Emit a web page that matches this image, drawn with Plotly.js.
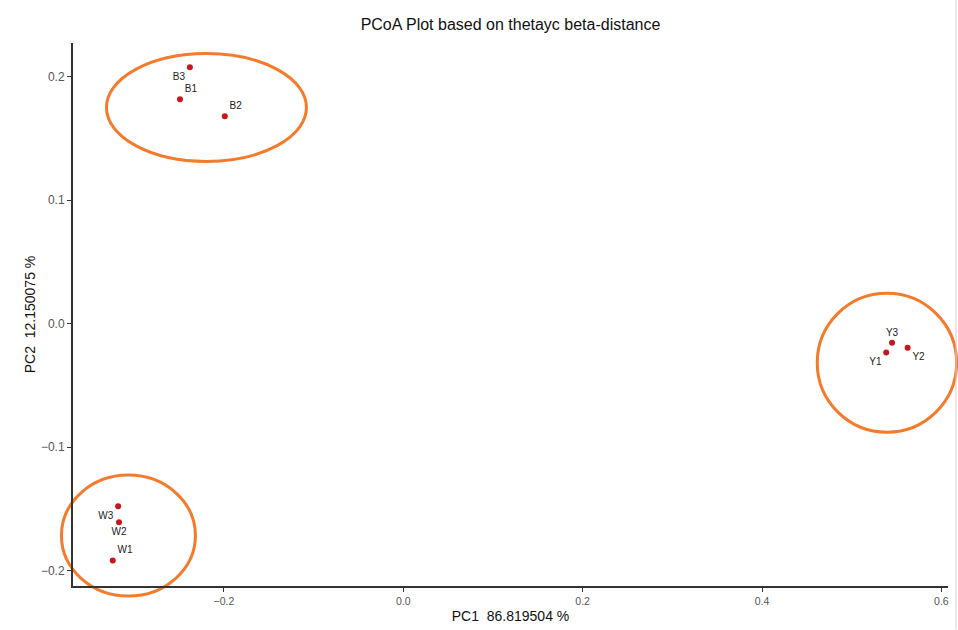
<!DOCTYPE html>
<html>
<head>
<meta charset="utf-8">
<script src="https://cdn.plot.ly/plotly-3.0.1.min.js"></script>
<style>html,body{margin:0;padding:0;background:#fff;}#chart{width:958px;height:630px;}</style>
</head>
<body>
<div id="chart"></div>
<script>
// Sample names and PCoA coordinates
var samples = ["B3", "B1", "B2", "W3", "W2", "W1", "Y1", "Y3", "Y2"];
var pc1 = [-0.238, -0.249, -0.199, -0.318, -0.317, -0.324, 0.5385, 0.545, 0.5624];
var pc2 = [0.2077, 0.1818, 0.168, -0.148, -0.161, -0.192, -0.0233, -0.0155, -0.0196];
var labelPos = ["bottom left", "top right", "top right", "bottom left", "bottom center", "top right", "bottom left", "top center", "bottom right"];

// Group ellipses (centre and half-widths in data units)
var ellipseCx = [-0.2195, -0.3065, 0.5393];
var ellipseCy = [0.1751, -0.1717, -0.0317];
var ellipseRx = [0.1115, 0.0747, 0.0777];
var ellipseRy = [0.0437, 0.049, 0.0563];

var xRange = [-0.3683, 0.6074];
var yRange = [-0.2126, 0.2274];

function px(v) { return (v - xRange[0]) / (xRange[1] - xRange[0]); }
function py(v) { return (v - yRange[0]) / (yRange[1] - yRange[0]); }

var shapes = [];
for (var i = 0; i < ellipseCx.length; i++) {
  shapes.push({
    type: "circle", xref: "paper", yref: "paper", layer: "below",
    x0: px(ellipseCx[i] - ellipseRx[i]), x1: px(ellipseCx[i] + ellipseRx[i]),
    y0: py(ellipseCy[i] - ellipseRy[i]), y1: py(ellipseCy[i] + ellipseRy[i]),
    line: {color: "#F47A2C", width: 3}
  });
}
// light frame line at the right edge of the image
shapes.push({type: "line", xref: "paper", yref: "paper", x0: 1.0092, x1: 1.0092, y0: -0.08, y1: 1.08,
  line: {color: "#d6d6d6", width: 1}});

var trace = {
  x: pc1, y: pc2, text: samples, mode: "markers+text", type: "scatter",
  textposition: labelPos,
  textfont: {family: "Liberation Sans, Arial, sans-serif", size: 10, color: "#222"},
  marker: {color: "#C8161D", size: 6},
  cliponaxis: false, hoverinfo: "text"
};

var layout = {
  width: 958, height: 630,
  margin: {l: 73, r: 10, t: 43, b: 44},
  paper_bgcolor: "#fff", plot_bgcolor: "#fff",
  showlegend: false,
  font: {family: "Liberation Sans, Arial, sans-serif", color: "#222"},
  title: {text: "PCoA Plot based on thetayc beta-distance", x: 0.5, xref: "paper", xanchor: "center",
          y: 0.962, yref: "container", yanchor: "middle",
          font: {size: 16, color: "#111", family: "Liberation Sans, Arial, sans-serif"}},
  xaxis: {
    range: xRange, dtick: 0.2, tick0: 0, tickformat: ".1f",
    showgrid: false, zeroline: false,
    showline: true, linecolor: "#333", linewidth: 2, mirror: false,
    ticks: "outside", ticklen: 4, tickcolor: "#333", tickwidth: 1,
    tickfont: {size: 10.5, color: "#555"},
    automargin: false,
    title: {text: "PC1  86.819504 %", standoff: 6, font: {size: 14, color: "#111"}}
  },
  yaxis: {
    range: yRange, dtick: 0.1, tick0: 0, tickformat: ".1f",
    showgrid: false, zeroline: false,
    showline: true, linecolor: "#333", linewidth: 2, mirror: false,
    ticks: "outside", ticklen: 4, tickcolor: "#333", tickwidth: 1,
    tickfont: {size: 12, color: "#555"},
    automargin: false,
    title: {text: "PC2  12.150075 %", standoff: 2, font: {size: 14, color: "#111"}}
  },
  shapes: shapes
};

Plotly.newPlot("chart", [trace], layout, {displayModeBar: false, staticPlot: true});
</script>
</body>
</html>
